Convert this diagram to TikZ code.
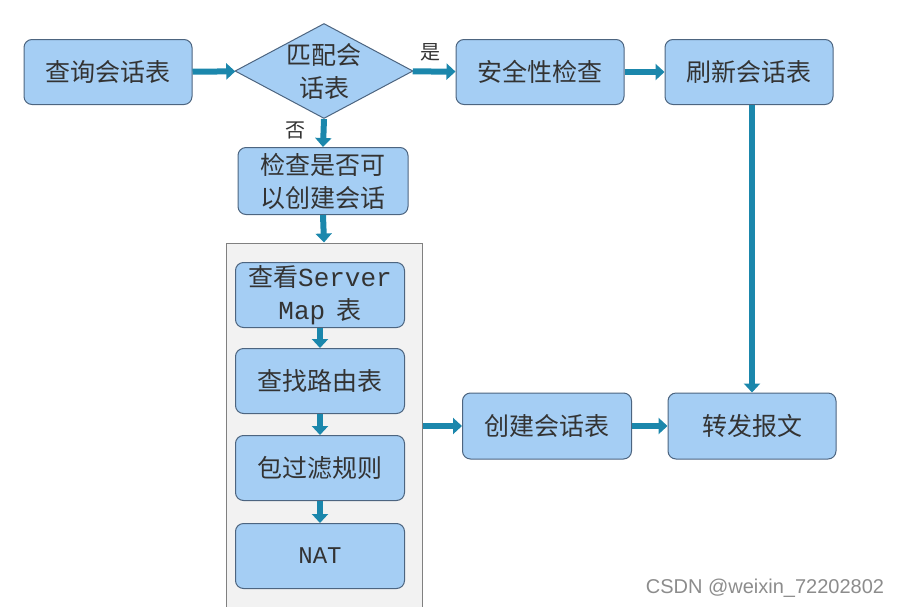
\documentclass[tikz,border=0pt]{standalone}
\usepackage{fontspec}
\setmainfont{Noto Sans CJK SC}
\newfontfamily\latinmono{Liberation Mono}
\newfontfamily\marksans{Liberation Sans}
\usetikzlibrary{arrows.meta, shapes.geometric, positioning}
\definecolor{boxfill}{HTML}{A5CEF4}
\definecolor{boxline}{HTML}{4D6580}
\definecolor{flowc}{HTML}{1B87AC}
\definecolor{panelbg}{HTML}{F2F2F2}
\definecolor{panelline}{HTML}{808080}

\begin{document}
\begin{tikzpicture}[
  x=1pt, y=-1pt,
  box/.style={draw=boxline, fill=boxfill, line width=1pt, rounded corners=8pt, align=center,
    minimum width=168pt, minimum height=65pt, inner sep=2pt, text=black!80,
    font=\fontsize{25}{33}\selectfont},
  decide/.style={draw=boxline, fill=boxfill, line width=1pt, diamond, minimum width=178pt,
    minimum height=95pt, inner sep=0pt},
  dtext/.style={align=center, text=black!80, font=\fontsize{25}{33}\selectfont},
  panel/.style={draw=panelline, fill=panelbg, line width=1pt, minimum width=196pt, minimum height=400pt},
  lbl/.style={font=\fontsize{20}{22}\selectfont, text=black!80},
  arr/.style={-{Triangle[length=9pt, width=16pt]}, line width=6pt, flowc}
]
\useasboundingbox (0,0) rectangle (906,606);

% top row
\node[box] (query) at (108,72) {查询会话表};
\node[decide, label={[dtext]center:匹配会\\话表}] (match) at (324,71) {};
\node[box] (secure) at (540,72) {安全性检查};
\node[box] (fresh) at (749,72) {刷新会话表};

\node[box, minimum width=170pt, minimum height=67pt] (check) at (323,181) {检查是否可\\以创建会话};

% panel holding the creation steps
\node[panel] (cont) at (324,443) {};
\node[box, minimum width=169pt] (smap) at (320,295)
  {查看{\latinmono\fontsize{26}{33}\selectfont Server}\\{\latinmono\fontsize{26}{33}\selectfont Map}\hspace{0.45em}表};
\node[box, minimum width=169pt] (route) at (320,381) {查找路由表};
\node[box, minimum width=169pt] (filter) at (320,468) {包过滤规则};
\node[box, minimum width=169pt] (nat) at (320,556) {\latinmono\fontsize{24}{33}\selectfont NAT};

\node[box, minimum width=169pt, minimum height=66pt] (make) at (547,426) {创建会话表};
\node[box, minimum width=168pt, minimum height=66pt] (fwd) at (752,426) {转发报文};

\node[lbl] (yes) at (430,52) {是};
\node[lbl] (no) at (295,130) {否};

\draw[arr] (query) -- (match);
\draw[arr] (match) -- (secure);
\draw[arr] (secure) -- (fresh);
\draw[arr] (fwd.north |- fresh.south) -- (fwd.north);
\draw[arr] (match.south) -- (check.north);
\draw[arr] (check.south) -- (cont.north);
\draw[arr] (smap) -- (route);
\draw[arr] (route) -- (filter);
\draw[arr] (filter) -- (nat);
\draw[arr] (cont.east |- make.west) -- (make.west);
\draw[arr] (make) -- (fwd);

\node[font=\marksans\fontsize{20}{24}\selectfont, text=black!45] (mark) at (765,588) {CSDN @weixin\_72202802};
\end{tikzpicture}
\end{document}
